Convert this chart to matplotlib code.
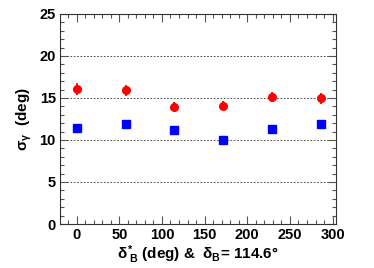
import matplotlib
matplotlib.use("Agg")
import matplotlib.pyplot as plt
from matplotlib.ticker import MultipleLocator

x_deg = [0.0, 57.3, 114.6, 171.9, 229.2, 286.5]
red_vals = [16.1, 15.9, 13.95, 14.1, 15.1, 14.95]
red_errs = [0.7, 0.65, 0.55, 0.5, 0.6, 0.65]
blue_vals = [11.45, 11.95, 11.15, 10.0, 11.35, 11.85]

plt.rcParams['font.family'] = ['Liberation Sans', 'DejaVu Sans']
plt.rcParams['font.weight'] = 'bold'
plt.rcParams['mathtext.fontset'] = 'custom'
plt.rcParams['mathtext.rm'] = 'Liberation Sans:bold'
plt.rcParams['mathtext.it'] = 'Liberation Sans:bold'
plt.rcParams['mathtext.bf'] = 'Liberation Sans:bold'

fig = plt.figure(figsize=(3.74, 2.68), dpi=100)
ax = fig.add_axes([60/374, 1-224/268, 276/374, 210/268])

for yv in [5, 10, 15, 20]:
    ax.axhline(yv, color='#333333', lw=0.6, ls=(0, (2, 2)), zorder=1)

ax.errorbar(x_deg, red_vals, yerr=red_errs, fmt='o', color='red', ms=5.5,
            elinewidth=1.3, capsize=0, zorder=3)
ax.plot(x_deg, blue_vals, 's', color='blue', ms=5.5, zorder=3)

ax.set_xlim(-19.5, 304)
ax.set_ylim(0, 25)
ax.xaxis.set_major_locator(MultipleLocator(50))
ax.xaxis.set_minor_locator(MultipleLocator(10))
ax.yaxis.set_major_locator(MultipleLocator(5))
ax.yaxis.set_minor_locator(MultipleLocator(1))
ax.tick_params(which='both', direction='in', top=True, right=True, labelsize=10.5,
               width=0.8, color='#555555', pad=3)
ax.tick_params(which='major', length=6)
ax.tick_params(which='minor', length=3)
for lab in ax.get_xticklabels() + ax.get_yticklabels():
    lab.set_fontweight('bold')
for s in ax.spines.values():
    s.set_linewidth(0.8)
    s.set_color('#333333')

ax.set_ylabel(r'$\sigma_{\gamma}$  (deg)', fontsize=11, fontweight='bold')
ax.yaxis.set_label_coords(-0.095, 0.5)
ax.set_xlabel(r'$\delta^{*}_{\ B}$ (deg) &  $\delta_B$= 114.6°', fontsize=11, fontweight='bold')
ax.xaxis.set_label_coords(0.5, -0.09)

fig.savefig('out.png', dpi=100)
